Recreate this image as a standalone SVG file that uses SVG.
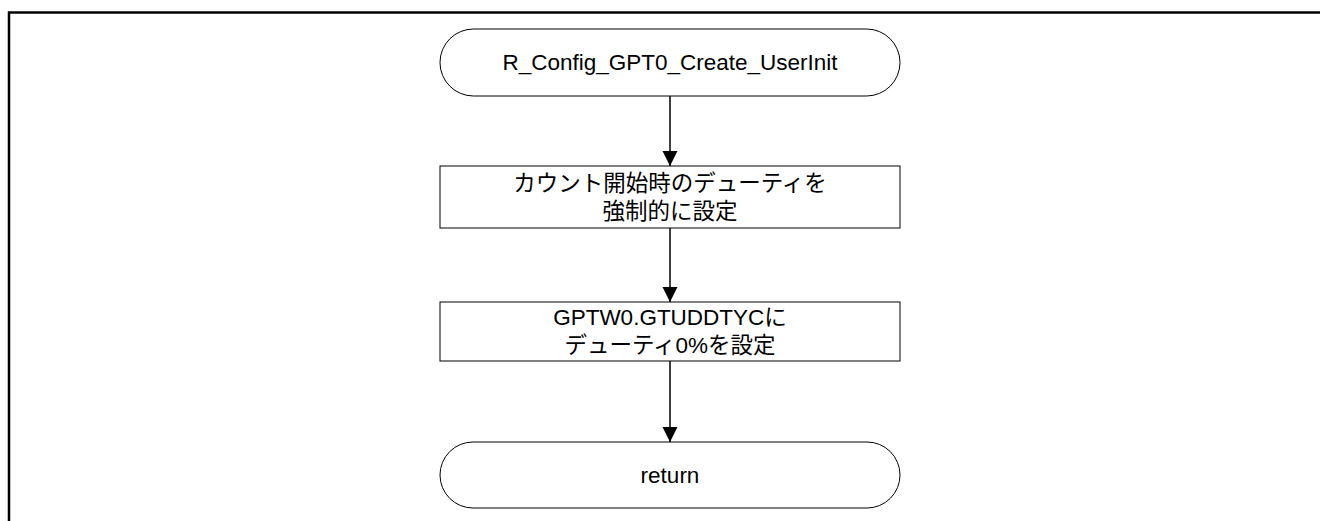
<svg xmlns="http://www.w3.org/2000/svg" width="1320" height="521" viewBox="0 0 1320 521">
<style>
.shape{fill:#fff;stroke:#000;stroke-width:1}
.t{font-family:"Liberation Sans","Noto Sans CJK JP",sans-serif;font-size:22.5px;fill:#000;text-anchor:middle}
.conn{stroke:#000;stroke-width:1.5;fill:none}
</style>
<defs>
<marker id="arr" markerUnits="userSpaceOnUse" markerWidth="16" markerHeight="16" viewBox="0 0 16 16" refX="15" refY="8" orient="auto">
<path d="M0,0.5 L15,8 L0,15.5 Z" fill="#000"/>
</marker>
</defs>
<rect width="1320" height="521" fill="#fff"/>
<path d="M9,521 V12.5 H1320" stroke="#000" stroke-width="2.5" fill="none"/>
<g id="connectors">
<line class="conn" x1="670" y1="96" x2="670" y2="166" marker-end="url(#arr)"/>
<line class="conn" x1="670" y1="228" x2="670" y2="302" marker-end="url(#arr)"/>
<line class="conn" x1="670" y1="361" x2="670" y2="442" marker-end="url(#arr)"/>
</g>
<g id="start">
<rect class="shape" x="440" y="29" width="460" height="67" rx="33.5" ry="33.5"/>
<text class="t" x="670" y="70">R_Config_GPT0_Create_UserInit</text>
</g>
<g id="step1">
<rect class="shape" x="440" y="166" width="460" height="62"/>
<text class="t" x="670" y="191">カウント開始時のデューティを</text>
<text class="t" x="670" y="219">強制的に設定</text>
</g>
<g id="step2">
<rect class="shape" x="440" y="302" width="460" height="59"/>
<text class="t" x="670" y="325">GPTW0.GTUDDTYCに</text>
<text class="t" x="670" y="353">デューティ0%を設定</text>
</g>
<g id="end">
<rect class="shape" x="440" y="442" width="460" height="66" rx="33" ry="33"/>
<text class="t" x="670" y="483">return</text>
</g>
</svg>
